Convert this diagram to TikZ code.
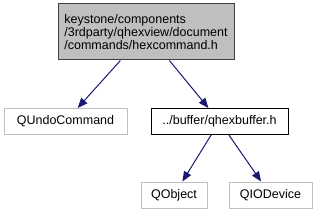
\documentclass[tikz,border=0pt]{standalone}
\usepackage{fontspec}
\setmainfont{Liberation Sans}
\usetikzlibrary{arrows.meta}
\definecolor{edgeblue}{HTML}{191970}
\definecolor{topfill}{HTML}{BFBFBF}
\definecolor{topdraw}{HTML}{404040}
\definecolor{greydraw}{HTML}{BFBFBF}
\begin{document}
\begin{tikzpicture}[x=1pt,y=-1pt,
  box/.style={rectangle,inner sep=0pt,font=\fontsize{12.5}{13}\selectfont,line width=1pt},
  mainbox/.style={box,fill=topfill,draw=topdraw,align=left},
  extbox/.style={box,fill=white,draw=greydraw},
  localbox/.style={box,fill=white,draw=black},
  dep/.style={draw=edgeblue,line width=1pt,-{Triangle[length=10pt,width=8pt]},color=edgeblue}]
\useasboundingbox (0,0) rectangle (318,216);
\node[mainbox,minimum width=176pt,minimum height=56pt] (top) at (146,32)
  {keystone/components\\/3rdparty/qhexview/document\\/commands/hexcommand.h};
\node[extbox,minimum width=123pt,minimum height=26pt] (undo) at (65.5,121.5) {QUndoCommand};
\node[localbox,minimum width=137pt,minimum height=26pt] (buf) at (219.5,121.5) {../buffer/qhexbuffer.h};
\node[extbox,minimum width=66pt,minimum height=26pt] (obj) at (174,195) {QObject};
\node[extbox,minimum width=83pt,minimum height=26pt] (dev) at (270.5,195) {QIODevice};
\draw[dep] (top) -- (undo);
\draw[dep] (top) -- (buf);
\draw[dep] (buf) -- (obj);
\draw[dep] (buf) -- (dev);
\end{tikzpicture}
\end{document}
